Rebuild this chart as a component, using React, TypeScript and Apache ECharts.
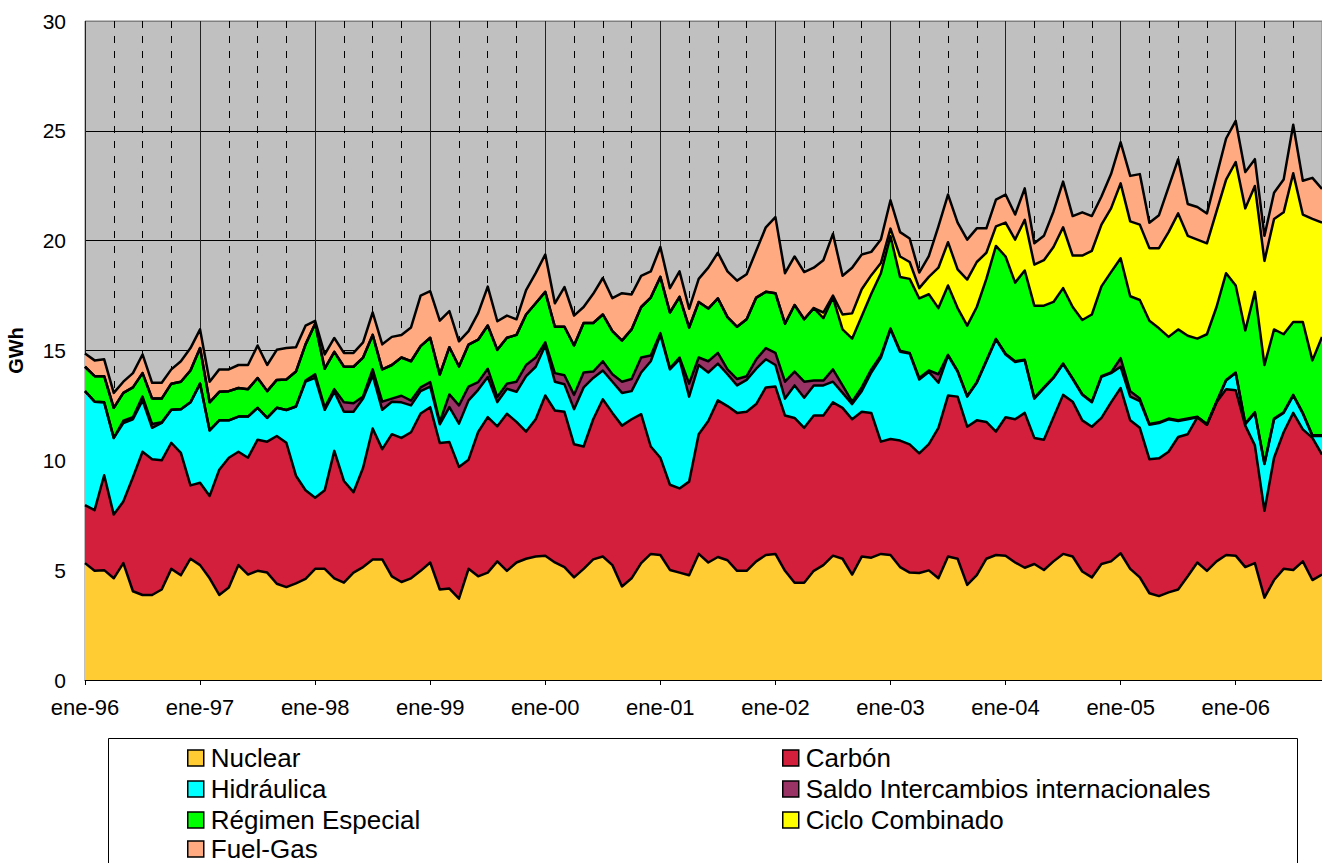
import React, { useEffect, useRef } from 'react';
import * as echarts from 'echarts';

// Categories: monthly, ene-96 .. oct-06
const monthAbbr = ['ene', 'feb', 'mar', 'abr', 'may', 'jun', 'jul', 'ago', 'sep', 'oct', 'nov', 'dic'];
const years = ['96', '97', '98', '99', '00', '01', '02', '03', '04', '05', '06'];
const categories: string[] = [];
years.forEach((y) => monthAbbr.forEach((m) => categories.push(`${m}-${y}`)));
const months = categories.slice(0, 130);

const yMin = 0;
const yMax = 30;
const yStep = 5;

// GWh per series (stack order bottom -> top)
const nuclear = [
  5.32, 4.97, 5.0, 4.63, 5.32, 4.04, 3.87, 3.87, 4.12, 5.06, 4.77, 5.52, 5.23, 4.63, 3.87, 4.21, 5.23, 4.8, 4.97, 4.89, 4.38, 4.23, 4.4,
  4.6, 5.06, 5.06, 4.63, 4.43, 4.89, 5.14, 5.49, 5.49, 4.72, 4.46, 4.63, 4.97, 5.35, 4.12, 4.16, 3.7, 5.06, 4.72, 4.89, 5.4, 4.97,
  5.35, 5.52, 5.62, 5.66, 5.35, 5.14, 4.67, 5.06, 5.49, 5.62, 5.23, 4.26, 4.63, 5.32, 5.74, 5.69, 5.01, 4.89, 4.77, 5.74, 5.35, 5.6,
  5.45, 4.97, 4.97, 5.4, 5.69, 5.74, 4.97, 4.43, 4.43, 4.97, 5.23, 5.66, 5.52, 4.8, 5.62, 5.57, 5.74, 5.69, 5.14, 4.89, 4.87, 4.99,
  4.63, 5.62, 5.52, 4.33, 4.77, 5.52, 5.69, 5.66, 5.35, 5.11, 5.28, 5.01, 5.4, 5.74, 5.62, 4.94, 4.67, 5.28, 5.4, 5.77, 5.06, 4.67,
  3.95, 3.82, 3.99, 4.12, 4.72, 5.35, 4.97, 5.4, 5.69, 5.66, 5.14, 5.32, 3.75, 4.55, 5.06, 5.01, 5.4, 4.55, 4.8,
];
const carbon = [
  2.64, 2.76, 4.32, 2.9, 2.81, 5.19, 6.52, 6.18, 5.88, 5.74, 5.57, 3.34, 3.75, 3.75, 5.7, 5.91, 5.16, 5.32, 5.97, 5.96, 6.73, 6.57, 4.9,
  4.04, 3.24, 3.58, 5.8, 4.63, 3.66, 4.52, 5.96, 5.02, 6.47, 6.56, 6.65, 7.16, 7.07, 6.67, 6.67, 6.0, 4.97, 6.57, 7.08, 6.15, 7.15,
  6.4, 5.79, 6.25, 7.29, 6.92, 7.07, 6.06, 5.57, 6.38, 7.16, 6.93, 7.32, 7.24, 6.78, 4.89, 4.43, 3.88, 3.83, 4.26, 5.45, 6.44, 7.13,
  7.02, 7.19, 7.24, 7.16, 7.63, 7.62, 7.07, 7.5, 7.05, 7.07, 6.81, 6.98, 6.87, 7.07, 6.59, 6.59, 5.11, 5.28, 5.76, 5.84, 5.45, 5.75,
  6.85, 7.33, 7.38, 7.2, 7.05, 6.23, 5.62, 6.3, 6.52, 7.05, 5.74, 5.93, 6.56, 7.24, 7.05, 6.88, 6.86, 6.65, 7.24, 7.52, 6.76, 6.81,
  6.1, 6.27, 6.4, 6.94, 6.47, 6.61, 6.65, 7.24, 7.55, 7.53, 6.44, 5.36, 3.95, 5.57, 6.22, 7.15, 6.01, 6.47, 5.46,
];
const hidraulica = [
  5.19, 4.94, 3.32, 3.49, 3.57, 2.64, 2.34, 1.43, 1.7, 1.5, 1.99, 3.78, 4.51, 2.98, 2.25, 1.7, 1.6, 1.87, 1.45, 1.08, 1.28, 1.49, 3.15,
  4.94, 5.45, 3.66, 2.69, 3.15, 3.66, 3.15, 2.42, 1.79, 1.48, 1.62, 1.22, 1.02, 0.94, 0.85, 1.59, 1.97, 2.7, 1.92, 1.82, 1.1, 1.14,
  1.37, 2.52, 2.39, 2.28, 1.31, 1.25, 1.6, 2.69, 1.88, 1.31, 1.42, 1.49, 1.28, 1.9, 3.88, 5.59, 5.25, 5.88, 3.87, 3.15, 2.21, 1.67,
  1.45, 1.25, 1.45, 1.61, 1.28, 0.98, 0.77, 1.48, 1.37, 1.37, 1.37, 0.94, 0.68, 0.69, 0.94, 1.84, 3.83, 4.99, 4.04, 4.13, 3.36, 3.28,
  2.05, 1.82, 1.14, 1.37, 1.71, 2.76, 4.19, 2.86, 2.61, 2.39, 1.79, 2.35, 1.79, 1.4, 1.03, 1.16, 1.11, 1.87, 1.33, 0.97, 1.08, 1.22,
  1.57, 1.61, 1.48, 0.73, 0.68, 0.0, 0.0, 0.0, 0.39, 0.78, 0.07, 1.48, 2.13, 1.75, 0.88, 0.79, 0.72, 0.09, 0.85,
];
const saldo = [
  0, 0, 0, 0, 0.1, 0.09, 0.17, 0.17, 0.03, 0, 0, 0, 0, 0, 0, 0, 0, 0, 0, 0, 0, 0, 0,
  0.05, 0.17, 0.1, 0.12, 0.43, 0.39, 0.1, 0.27, 0.37, 0.14, 0.3, 0.22, 0.17, 0.2, 0.1, 0.58, 0.83, 0.63, 0.35, 0.38, 0.23, 0.23,
  0.46, 0.51, 0.42, 0.14, 0.39, 0.41, 0.65, 0.68, 0.29, 0.42, 0.34, 0.51, 0.55, 0.68, 0.26, 0.08, 0.05, 0.08, 0.59, 0.34, 0.51, 0.49,
  0.22, 0.29, 0.17, 0.43, 0.51, 0.55, 0.77, 0.63, 0.73, 0.22, 0.22, 0.56, 0.34, 0.11, 0.17, 0.14, 0.09, 0.04, 0.05, 0.03, 0.07, 0.07,
  0.39, 0.03, 0.03, 0.03, 0.03, 0.03, 0.03, 0.03, 0.03, 0.03, 0.03, 0.03, 0.03, 0.03, 0.03, 0.03, 0.03, 0.03, 0.03, 0.39, 0.25, 0.11,
  0.03, 0.03, 0.03, 0.03, 0.03, 0.03, 0.03, 0.03, 0.03, 0.03, 0.03, 0.03, 0.03, 0.03, 0.03, 0.03, 0.03, 0.03, 0.03,
];
const regimen = [
  1.11, 1.16, 1.19, 1.37, 1.27, 1.36, 1.07, 1.16, 1.08, 1.19, 1.25, 1.45, 1.62, 1.28, 1.3, 1.33, 1.3, 1.25, 1.36, 1.22, 1.27, 1.39, 1.59,
  1.65, 2.3, 1.77, 1.7, 1.62, 1.66, 1.77, 1.57, 1.47, 1.53, 1.74, 1.79, 1.88, 2.02, 2.16, 2.15, 1.77, 1.91, 1.93, 1.97, 2.15, 2.09,
  2.13, 2.3, 2.47, 2.3, 2.11, 2.21, 2.25, 2.25, 2.21, 2.13, 1.96, 1.87, 2.26, 2.3, 2.64, 2.56, 2.54, 2.76, 2.56, 2.53, 2.4, 2.48,
  2.38, 2.38, 2.59, 2.81, 2.56, 2.72, 2.64, 3.03, 2.84, 3.3, 2.84, 3.27, 2.55, 2.87, 3.24, 3.44, 3.75, 4.2, 3.36, 3.37, 3.62, 3.47,
  3.01, 3.16, 2.86, 3.2, 3.42, 3.72, 4.23, 4.43, 3.58, 4.06, 4.2, 3.72, 3.43, 3.43, 3.25, 3.38, 3.97, 4.09, 4.57, 4.55, 4.32, 4.49,
  4.7, 4.28, 3.72, 4.14, 3.77, 3.55, 4.09, 4.31, 4.86, 3.96, 4.23, 5.48, 4.48, 4.06, 3.55, 3.32, 4.14, 3.41, 4.48,
];
const ciclo = [
  0, 0, 0, 0, 0, 0, 0, 0, 0, 0, 0, 0, 0, 0, 0, 0, 0, 0, 0, 0, 0, 0, 0,
  0, 0, 0, 0, 0, 0, 0, 0, 0, 0, 0, 0, 0, 0, 0, 0, 0, 0, 0, 0, 0, 0,
  0, 0, 0, 0, 0, 0, 0, 0, 0, 0, 0, 0, 0, 0, 0, 0, 0, 0, 0, 0, 0, 0,
  0, 0, 0, 0, 0, 0, 0, 0, 0, 0, 0.26, 0.09, 0.68, 1.15, 1.23, 0.85, 0.46, 0.35, 0.93, 0.77, 0.47, 0.79,
  1.84, 1.97, 1.76, 2.1, 2.05, 1.19, 0.89, 1.54, 1.96, 2.31, 1.87, 2.07, 2.5, 2.77, 2.34, 2.93, 2.9, 2.81, 2.9, 3.41, 3.41, 3.43,
  3.31, 3.65, 4.77, 5.28, 4.55, 4.51, 4.14, 4.35, 4.26, 5.62, 5.56, 4.82, 4.74, 5.03, 5.55, 6.77, 4.89, 6.44, 5.2,
];
const fuelGas = [
  0.6, 0.72, 0.77, 0.68, 0.51, 0.65, 0.85, 0.72, 0.72, 0.65, 0.93, 1.02, 0.85, 0.94, 1.02, 0.99, 1.05, 1.1, 1.48, 1.19, 1.37, 1.43, 1.11,
  0.85, 0.13, 0.65, 0.63, 0.63, 0.63, 0.69, 1.02, 1.14, 1.28, 1.03, 1.54, 2.3, 2.12, 2.46, 1.64, 1.15, 0.61, 1.21, 1.77, 1.3, 1.01,
  0.71, 1.11, 1.37, 1.7, 1.07, 1.81, 1.36, 0.73, 1.33, 1.66, 1.5, 2.16, 1.59, 1.42, 1.19, 1.36, 1.11, 1.16, 0.85, 1.05, 1.86, 2.08,
  2.08, 2.1, 2.05, 2.13, 2.94, 3.46, 2.3, 2.21, 2.15, 1.84, 2.38, 2.81, 1.76, 2.08, 1.58, 1.06, 1.07, 1.29, 1.11, 1.07, 0.71, 0.95,
  1.88, 2.17, 2.13, 1.82, 1.53, 1.11, 1.22, 1.28, 1.14, 1.43, 0.97, 1.11, 1.62, 2.08, 1.8, 1.97, 1.58, 1.28, 1.56, 1.87, 2.07, 2.3,
  1.16, 1.5, 2.05, 2.47, 1.45, 1.48, 1.36, 1.62, 1.87, 1.87, 1.65, 1.22, 1.14, 1.19, 1.49, 2.21, 1.54, 1.87, 1.53,
];

const seriesDefs = [
  { name: 'Nuclear', data: nuclear, color: '#FFCC33' },
  { name: 'Carbón', data: carbon, color: '#D31F3C' },
  { name: 'Hidráulica', data: hidraulica, color: '#00FFFF' },
  { name: 'Saldo Intercambios internacionales', data: saldo, color: '#993366' },
  { name: 'Régimen Especial', data: regimen, color: '#00FF00' },
  { name: 'Ciclo Combinado', data: ciclo, color: '#FFFF00' },
  { name: 'Fuel-Gas', data: fuelGas, color: '#FFAA80' },
];

// Legend layout: [name, column, row]
const legendCells: [string, number, number][] = [
  ['Nuclear', 0, 0],
  ['Carbón', 1, 0],
  ['Hidráulica', 0, 1],
  ['Saldo Intercambios internacionales', 1, 1],
  ['Régimen Especial', 0, 2],
  ['Ciclo Combinado', 1, 2],
  ['Fuel-Gas', 0, 3],
];

const FONT = '"Liberation Sans", Arial, sans-serif';

export default function App() {
  const ref = useRef<HTMLDivElement>(null);

  useEffect(() => {
    if (!ref.current) return;
    const chart = echarts.init(ref.current, undefined, { renderer: 'svg' });
    const colX = [187, 782];
    const rowY = [745, 776, 807, 836];
    const legends = legendCells.map(([name, c, r]) => ({
      orient: 'horizontal',
      icon: 'rect',
      itemWidth: 16,
      itemHeight: 16,
      selectedMode: false,
      left: colX[c],
      top: rowY[r],
      padding: 0,
      data: [name],
      itemStyle: { borderColor: '#000', borderWidth: 1.5 },
      textStyle: { fontFamily: FONT, fontSize: 26, color: '#000', lineHeight: 25, padding: [0, 0, 0, 2] },
    }));
    chart.setOption({
      animation: false,
      textStyle: { fontFamily: FONT },
      grid: {
        left: 85,
        top: 21,
        right: 0,
        bottom: 183,
        show: true,
        backgroundColor: '#C0C0C0',
        borderColor: '#808080',
        borderWidth: 1,
        containLabel: false,
        outerBoundsMode: 'none',
      },
      legend: legends,
      graphic: [
        {
          type: 'rect',
          shape: { x: 108.5, y: 738.5, width: 1189, height: 140 },
          style: { fill: 'none', stroke: '#000', lineWidth: 1 },
          z: -1,
        },
      ],
      xAxis: [
        {
          type: 'category',
          data: months,
          boundaryGap: false,
          axisLine: { show: true, lineStyle: { color: '#000', width: 1 } },
          axisTick: {
            show: true,
            length: 5,
            interval: (i: number) => i % 12 === 0,
            lineStyle: { color: '#000' },
          },
          axisLabel: {
            interval: (i: number) => i % 12 === 0,
            fontSize: 22,
            color: '#000',
            margin: 16,
            fontFamily: FONT,
          },
          splitLine: {
            show: true,
            interval: (i: number) => i % 3 === 0 && i % 12 !== 0,
            lineStyle: { color: '#000', width: 1, type: [7, 8] },
          },
        },
        {
          type: 'category',
          data: months,
          boundaryGap: false,
          position: 'bottom',
          axisLine: { show: false },
          axisTick: { show: false },
          axisLabel: { show: false },
          splitLine: {
            show: true,
            interval: (i: number) => i % 12 === 0,
            lineStyle: { color: '#222', width: 1, type: 'solid' },
          },
        },
      ],
      yAxis: {
        type: 'value',
        min: yMin,
        max: yMax,
        interval: yStep,
        name: 'GWh',
        nameLocation: 'middle',
        nameRotate: 90,
        nameGap: 59,
        nameTextStyle: { fontFamily: FONT, fontSize: 20, fontWeight: 'bold', color: '#000' },
        axisLine: { show: false },
        axisTick: { show: false },
        axisLabel: { fontSize: 21, color: '#000', margin: 19, fontFamily: FONT },
        splitLine: {
          show: true,
          lineStyle: { color: ['#000', '#000', '#000', '#000', '#000', '#000', '#808080'], width: 1 },
        },
      },
      series: seriesDefs.map((s) => ({
        name: s.name,
        type: 'line',
        stack: 'total',
        xAxisIndex: 0,
        data: s.data,
        symbol: 'none',
        showSymbol: false,
        itemStyle: { color: s.color },
        lineStyle: { color: '#000', width: 2.5, join: 'round' },
        areaStyle: { color: s.color, opacity: 1 },
      })),
    });
    return () => chart.dispose();
  }, []);

  return (
    <div
      ref={ref}
      style={{ position: 'absolute', left: 0, top: 0, width: 1322, height: 863, background: '#fff' }}
    />
  );
}
